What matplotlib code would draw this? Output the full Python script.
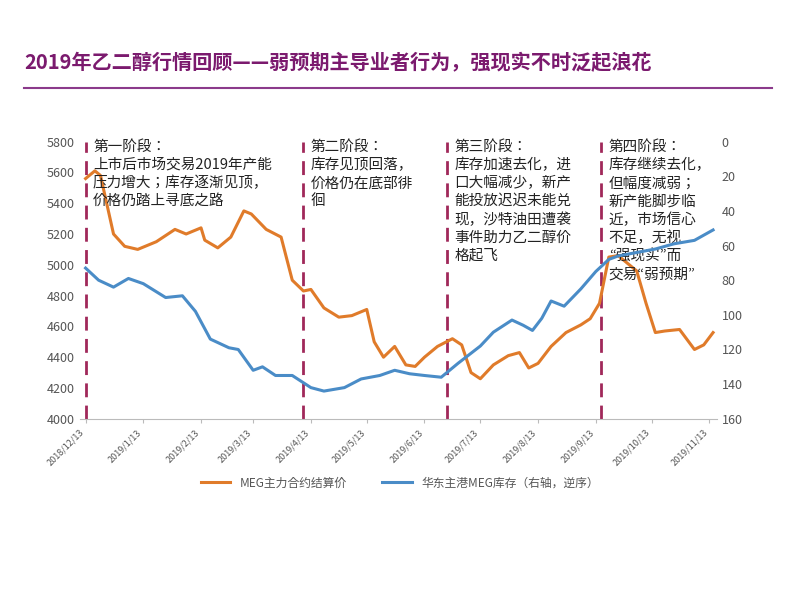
import matplotlib
matplotlib.use("Agg")
import matplotlib.pyplot as plt
from matplotlib import font_manager as fm
import pandas as pd

cjk = [f.name for f in fm.fontManager.ttflist if "CJK" in f.name]
fam = "Noto Sans CJK SC" if "Noto Sans CJK SC" in cjk else (cjk[0] if cjk else "DejaVu Sans")
plt.rcParams['font.sans-serif'] = [fam, 'DejaVu Sans']
plt.rcParams['font.family'] = 'sans-serif'

price_dates = ["2018-12-13","2018-12-18","2018-12-21","2018-12-28","2019-01-03","2019-01-10","2019-01-20","2019-01-30","2019-02-05","2019-02-13","2019-02-15","2019-02-22","2019-03-01","2019-03-08","2019-03-12","2019-03-20","2019-03-28","2019-04-03","2019-04-09","2019-04-13","2019-04-20","2019-04-28","2019-05-05","2019-05-13","2019-05-17","2019-05-22","2019-05-28","2019-06-03","2019-06-08","2019-06-13","2019-06-20","2019-06-28","2019-07-03","2019-07-08","2019-07-13","2019-07-20","2019-07-28","2019-08-03","2019-08-08","2019-08-13","2019-08-20","2019-08-28","2019-09-05","2019-09-10","2019-09-15","2019-09-20","2019-09-25","2019-10-01","2019-10-05","2019-10-10","2019-10-15","2019-10-20","2019-10-28","2019-11-05","2019-11-10","2019-11-15"]
price = [5560,5610,5580,5200,5120,5100,5150,5230,5200,5240,5160,5110,5180,5350,5330,5230,5180,4900,4830,4840,4720,4660,4670,4710,4500,4400,4470,4350,4340,4400,4470,4520,4480,4300,4260,4350,4410,4430,4330,4360,4470,4560,4610,4650,4750,5050,5060,5000,4960,4750,4560,4570,4580,4450,4480,4560]

inv_dates = ["2018-12-13","2018-12-20","2018-12-28","2019-01-05","2019-01-13","2019-01-25","2019-02-03","2019-02-10","2019-02-18","2019-02-28","2019-03-05","2019-03-13","2019-03-18","2019-03-25","2019-04-03","2019-04-13","2019-04-20","2019-05-01","2019-05-10","2019-05-20","2019-05-28","2019-06-05","2019-06-13","2019-06-22","2019-07-01","2019-07-13","2019-07-20","2019-07-30","2019-08-05","2019-08-10","2019-08-15","2019-08-20","2019-08-27","2019-09-05","2019-09-13","2019-09-20","2019-09-25","2019-10-05","2019-10-15","2019-10-25","2019-11-05","2019-11-15"]
inventory = [73,80,84,79,82,90,89,98,114,119,120,132,130,135,135,142,144,142,137,135,132,134,135,136,128,118,110,103,106,109,102,92,95,85,75,68,66,64,62,59,57,51]

stage_dates = ["2018-12-13","2019-04-09","2019-06-25","2019-09-16"]
stage_texts = ["第一阶段：\n上市后市场交易2019年产能\n压力增大；库存逐渐见顶，\n价格仍踏上寻底之路",
               "第二阶段：\n库存见顶回落，\n价格仍在底部徘\n徊",
               "第三阶段：\n库存加速去化，进\n口大幅减少，新产\n能投放迟迟未能兑\n现，沙特油田遭袭\n事件助力乙二醇价\n格起飞",
               "第四阶段：\n库存继续去化，\n但幅度减弱；\n新产能脚步临\n近，市场信心\n不足，无视\n“强现实”而\n交易“弱预期”"]
tick_dates = ["2018-12-13","2019-01-13","2019-02-13","2019-03-13","2019-04-13","2019-05-13","2019-06-13","2019-07-13","2019-08-13","2019-09-13","2019-10-13","2019-11-13"]
tick_labels = ["2018/12/13","2019/1/13","2019/2/13","2019/3/13","2019/4/13","2019/5/13","2019/6/13","2019/7/13","2019/8/13","2019/9/13","2019/10/13","2019/11/13"]

fig = plt.figure(figsize=(8,6), dpi=100)
fig.text(0.03, 0.885, "2019年乙二醇行情回顾——弱预期主导业者行为，强现实不时泛起浪花",
         fontsize=14.5, color="#7B1A6E", fontweight="bold")
fig.add_artist(plt.Line2D([0.03,0.965],[0.853,0.853], color="#8B3A8B", lw=1.5))

ax = fig.add_axes([0.1, 0.302, 0.796, 0.462])
ax.plot(pd.to_datetime(price_dates), price, color="#E07B2A", lw=2.2, label="MEG主力合约结算价")
ax.set_ylim(4000,5800)
ax.set_yticks(range(4000,5801,200))
ax2 = ax.twinx()
ax2.plot(pd.to_datetime(inv_dates), inventory, color="#4A8CC7", lw=2.2, label="华东主港MEG库存（右轴，逆序）")
ax2.set_ylim(160,0)
ax2.set_yticks(range(0,161,20))
xl = (pd.Timestamp("2018-12-10"), pd.Timestamp("2019-11-17"))
ax.set_xlim(xl)
ax.set_xticks(pd.to_datetime(tick_dates))
ax.set_xticklabels(tick_labels, rotation=45, ha="right", fontsize=6.5, color="#555555")
for a in (ax, ax2):
    for s in a.spines.values(): s.set_visible(False)
    a.tick_params(axis='y', length=0, labelsize=9, colors="#555555")
ax.spines['bottom'].set_visible(True); ax.spines['bottom'].set_color("#bbbbbb")
ax.tick_params(axis='x', length=3, colors="#bbbbbb", labelcolor="#555555")

for d, t in zip(stage_dates, stage_texts):
    dt = pd.Timestamp(d)
    ax.axvline(dt, color="#A0285A", lw=2, ls=(0,(5,3)), zorder=0)
    ax.text(dt + pd.Timedelta(days=4), 5810, t, fontsize=10.5, va="top", ha="left",
            linespacing=1.35, color="#222222")

h1,l1 = ax.get_legend_handles_labels(); h2,l2 = ax2.get_legend_handles_labels()
fig.legend(h1+h2, l1+l2, loc="center", bbox_to_anchor=(0.5,0.195), ncol=2, frameon=False,
           fontsize=8.5, labelcolor="#555555", handlelength=2.5, columnspacing=3)
fig.savefig("out.png")
